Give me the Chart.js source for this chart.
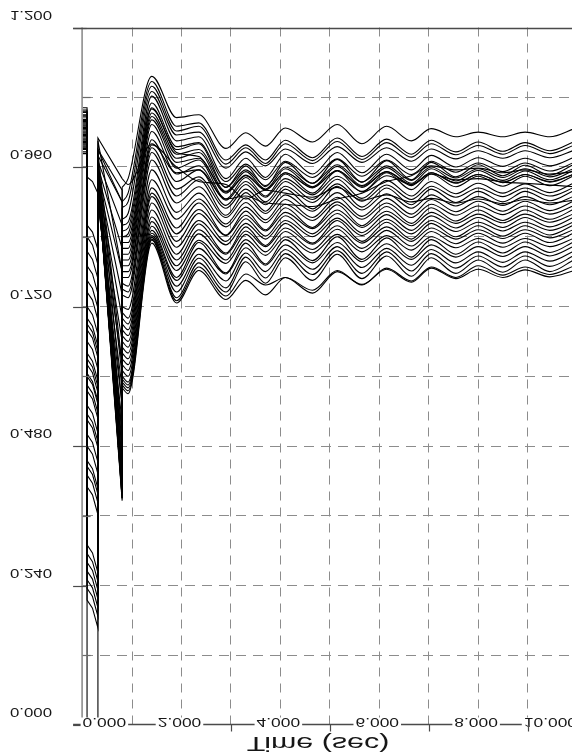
<!DOCTYPE html>
<html>
<head>
<meta charset="utf-8">
<title>Bus voltages</title>
<script src="https://cdn.jsdelivr.net/npm/chart.js@4.4.1/dist/chart.umd.min.js"></script>
<style>
  html, body { margin: 0; padding: 0; background: #fff; overflow: hidden; }
  #wrap { width: 600px; height: 753px; }
</style>
</head>
<body>
<div id="wrap"><canvas id="c" width="600" height="753"></canvas></div>
<script>
// Sample times (s): pre-fault, fault on/off, resynchronisation, then the swing extrema
const times = [0, 0.09, 0.09, 0.2, 0.31, 0.31, 0.8, 0.8, 0.92,
  1.4, 1.9, 2.35, 2.9, 3.3, 3.7, 4.1, 4.65, 5.15, 5.65, 6.15, 6.65, 7.05, 7.55, 8.0, 8.5, 8.95, 9.45, 9.95];

// Bus voltages (pu), one array per monitored bus, aligned with `times`
const bus01 = [1.030,1.030,0.840,0.826,0.792,0.990,0.900,0.925,0.940, 1.116,1.045,1.050,0.992,1.019,0.996,1.027,1.003,1.033,1.000,1.030,1.005,1.026,1.012,1.020,1.012,1.020,1.012,1.026];
const bus02 = [1.062,1.062,0.815,0.801,0.768,1.005,0.780,0.900,0.915, 1.107,1.030,1.036,0.972,0.998,0.972,1.006,0.976,1.010,0.978,1.008,0.982,1.006,0.986,1.003,0.987,1.002,0.988,1.004];
const bus03 = [1.046,1.046,0.790,0.776,0.742,0.985,0.620,0.890,0.900, 1.099,1.022,1.030,0.965,0.993,0.966,1.000,0.971,1.004,0.973,1.002,0.977,1.000,0.981,0.997,0.982,0.997,0.983,0.998];
const bus04 = [1.054,1.054,0.765,0.751,0.717,0.975,0.550,0.870,0.880, 1.090,1.015,1.020,0.958,0.986,0.962,0.991,0.966,0.995,0.968,0.993,0.970,0.991,0.974,0.988,0.975,0.988,0.976,0.989];
const bus05 = [1.038,1.038,0.745,0.731,0.697,0.965,0.480,0.860,0.865, 1.082,1.005,1.012,0.940,0.975,0.942,0.982,0.948,0.985,0.950,0.982,0.955,0.980,0.960,0.976,0.961,0.975,0.962,0.977];
const bus06 = [1.042,1.042,0.720,0.706,0.672,0.960,0.440,0.850,0.855, 1.070,0.995,1.002,0.935,0.965,0.938,0.970,0.942,0.974,0.944,0.972,0.947,0.970,0.951,0.967,0.952,0.967,0.953,0.968];
const bus07 = [1.026,1.026,0.700,0.686,0.652,0.955,0.420,0.840,0.840, 1.062,0.990,1.000,0.925,0.962,0.926,0.968,0.932,0.973,0.934,0.971,0.938,0.968,0.943,0.964,0.945,0.963,0.946,0.965];
const bus08 = [1.034,1.034,0.680,0.666,0.632,0.950,0.400,0.830,0.830, 1.053,0.982,0.990,0.925,0.955,0.928,0.960,0.932,0.964,0.934,0.962,0.937,0.960,0.941,0.957,0.942,0.957,0.943,0.958];
const bus09 = [1.018,1.018,0.660,0.646,0.612,0.945,0.390,0.820,0.820, 1.047,0.975,0.985,0.918,0.952,0.922,0.957,0.926,0.961,0.928,0.959,0.932,0.957,0.936,0.954,0.937,0.953,0.938,0.955];
const bus10 = [1.022,1.022,0.640,0.626,0.592,0.940,0.390,0.810,0.810, 1.041,0.968,0.975,0.917,0.946,0.921,0.950,0.925,0.954,0.927,0.952,0.930,0.950,0.933,0.947,0.934,0.947,0.935,0.948];
const bus11 = [1.010,1.010,0.620,0.606,0.572,0.935,0.400,0.800,0.800, 1.033,0.958,0.972,0.905,0.942,0.910,0.948,0.915,0.953,0.917,0.950,0.921,0.948,0.926,0.944,0.927,0.944,0.928,0.946];
const bus12 = [1.014,1.014,0.600,0.586,0.552,0.930,0.410,0.790,0.790, 1.021,0.948,0.962,0.903,0.935,0.908,0.940,0.912,0.944,0.918,0.945,0.930,0.948,0.938,0.940,0.934,0.932,0.929,0.926];
const bus13 = [1.006,1.006,0.575,0.561,0.527,0.925,0.430,0.770,0.770, 1.007,0.935,0.955,0.894,0.930,0.900,0.935,0.904,0.939,0.906,0.937,0.910,0.935,0.914,0.932,0.915,0.931,0.916,0.933];
const bus14 = [1.002,1.002,0.550,0.536,0.502,0.920,0.450,0.760,0.755, 0.993,0.922,0.943,0.889,0.922,0.895,0.927,0.899,0.931,0.901,0.929,0.904,0.927,0.908,0.924,0.909,0.924,0.910,0.925];
const bus15 = [0.998,0.998,0.525,0.511,0.477,0.915,0.470,0.750,0.745, 0.985,0.910,0.938,0.877,0.916,0.884,0.922,0.888,0.927,0.891,0.924,0.895,0.922,0.899,0.918,0.900,0.918,0.902,0.920];
const bus16 = [0.994,0.994,0.500,0.486,0.452,0.912,0.500,0.740,0.735, 0.972,0.898,0.926,0.873,0.907,0.880,0.912,0.884,0.916,0.886,0.914,0.889,0.912,0.893,0.909,0.894,0.909,0.895,0.910];
const bus17 = [0.990,0.990,0.480,0.466,0.432,0.905,0.520,0.720,0.715, 0.955,0.882,0.915,0.862,0.899,0.869,0.904,0.873,0.908,0.875,0.906,0.879,0.904,0.883,0.901,0.884,0.901,0.885,0.902];
const bus18 = [0.986,0.986,0.455,0.441,0.407,0.900,0.550,0.710,0.700, 0.938,0.870,0.905,0.857,0.891,0.864,0.896,0.868,0.900,0.870,0.898,0.873,0.896,0.877,0.893,0.878,0.893,0.879,0.894];
const bus19 = [0.983,0.983,0.430,0.416,0.382,0.905,0.580,0.700,0.690, 0.924,0.855,0.898,0.843,0.884,0.852,0.890,0.856,0.895,0.859,0.892,0.863,0.890,0.867,0.886,0.868,0.886,0.870,0.888];
const bus20 = [1.050,1.050,0.410,0.396,0.362,0.910,0.620,0.690,0.680, 0.915,0.845,0.887,0.842,0.877,0.850,0.882,0.854,0.886,0.856,0.884,0.859,0.882,0.863,0.879,0.864,0.879,0.865,0.880];
const bus21 = [1.058,1.058,0.310,0.296,0.262,0.920,0.660,0.680,0.670, 0.909,0.832,0.880,0.832,0.871,0.841,0.876,0.845,0.880,0.847,0.878,0.851,0.876,0.855,0.873,0.856,0.873,0.857,0.874];
const bus22 = [1.048,1.048,0.295,0.281,0.247,0.930,0.700,0.670,0.660, 0.898,0.822,0.868,0.826,0.863,0.836,0.868,0.840,0.872,0.842,0.870,0.845,0.868,0.849,0.865,0.850,0.865,0.851,0.866];
const bus23 = [1.040,1.040,0.280,0.266,0.232,0.940,0.740,0.660,0.650, 0.886,0.810,0.862,0.812,0.857,0.825,0.863,0.829,0.868,0.832,0.865,0.836,0.863,0.840,0.859,0.841,0.859,0.843,0.861];
const bus24 = [1.032,1.032,0.265,0.251,0.217,0.950,0.780,0.650,0.640, 0.874,0.800,0.852,0.810,0.850,0.823,0.855,0.827,0.859,0.829,0.857,0.832,0.855,0.836,0.852,0.837,0.852,0.838,0.853];
const bus25 = [1.024,1.024,0.250,0.236,0.202,0.960,0.820,0.640,0.630, 0.866,0.790,0.845,0.800,0.844,0.814,0.849,0.818,0.853,0.820,0.851,0.824,0.849,0.828,0.846,0.829,0.846,0.830,0.847];
const bus26 = [1.016,1.016,0.235,0.221,0.187,0.970,0.860,0.630,0.620, 0.858,0.782,0.834,0.794,0.835,0.808,0.840,0.812,0.844,0.814,0.842,0.817,0.840,0.821,0.837,0.822,0.837,0.823,0.838];
const bus27 = [1.008,1.008,0.215,0.201,0.167,0.980,0.900,0.620,0.610, 0.851,0.770,0.830,0.778,0.829,0.793,0.835,0.799,0.840,0.801,0.838,0.805,0.835,0.810,0.831,0.812,0.831,0.813,0.832];
const bus28 = [0.996,0.996,0.860,0.848,0.818,0.990,0.920,0.610,0.600, 0.846,0.765,0.820,0.776,0.821,0.791,0.826,0.795,0.830,0.797,0.828,0.801,0.826,0.805,0.823,0.806,0.823,0.807,0.824];
const bus29 = [1.056,1.056,0.690,0.676,0.642,0.970,0.600,0.600,0.590, 0.842,0.755,0.810,0.764,0.812,0.780,0.818,0.784,0.823,0.787,0.820,0.791,0.818,0.795,0.814,0.796,0.814,0.798,0.816];
const bus30 = [1.036,1.036,0.630,0.616,0.582,0.960,0.500,0.595,0.585, 0.839,0.745,0.803,0.752,0.805,0.769,0.811,0.775,0.816,0.777,0.814,0.781,0.811,0.786,0.807,0.788,0.807,0.789,0.808];
const bus31 = [1.028,1.028,0.585,0.571,0.537,0.950,0.450,0.590,0.580, 0.836,0.735,0.795,0.745,0.797,0.760,0.804,0.765,0.810,0.768,0.807,0.772,0.804,0.777,0.800,0.779,0.800,0.780,0.801];
const bus32 = [1.020,1.020,0.535,0.521,0.487,0.940,0.400,0.585,0.575, 0.834,0.730,0.788,0.738,0.776,0.757,0.770,0.748,0.782,0.757,0.786,0.764,0.788,0.770,0.790,0.774,0.788,0.775,0.790];
const bus33 = [1.012,1.012,0.445,0.431,0.397,0.935,0.386,0.580,0.570, 0.829,0.726,0.782,0.732,0.765,0.740,0.770,0.743,0.780,0.758,0.784,0.762,0.786,0.768,0.784,0.770,0.783,0.771,0.782];
const bus34 = [1.000,1.000,0.012,0.010,0.010,0.970,0.390,0.840,0.845, 1.060,0.985,0.978,0.915,0.945,0.920,0.950,0.924,0.954,0.925,0.952,0.928,0.950,0.932,0.947,0.933,0.947,0.934,0.948];
const bus35 = [0.992,0.992,0.943,0.935,0.915,1.010,0.940,0.940,0.930, 1.000,0.950,0.955,0.905,0.910,0.898,0.896,0.892,0.905,0.915,0.935,0.945,0.962,0.955,0.958,0.950,0.955,0.948,0.952];
const bus36 = [1.004,1.004,0.605,0.591,0.557,0.942,0.470,0.780,0.780, 0.998,0.960,0.935,0.930,0.905,0.920,0.915,0.908,0.925,0.903,0.912,0.900,0.906,0.898,0.905,0.897,0.904,0.898,0.903];

const busCurves = [bus01, bus02, bus03, bus04, bus05, bus06, bus07, bus08, bus09, bus10,
  bus11, bus12, bus13, bus14, bus15, bus16, bus17, bus18, bus19, bus20,
  bus21, bus22, bus23, bus24, bus25, bus26, bus27, bus28, bus29, bus30,
  bus31, bus32, bus33, bus34, bus35, bus36];

// Axis annotations
const yTickValues = [0, 0.24, 0.48, 0.72, 0.96, 1.2];
const yTickLabels = ['0.000', '0.240', '0.480', '0.720', '0.960', '1.200'];
const yMinorValues = [0.12, 0.36, 0.6, 0.84, 1.08];
const xTickValues = [0, 2, 4, 6, 8, 10];
const xTickLabels = ['0.000', '2.000', '4.000', '6.000', '8.000', '10.000'];
const xMinorValues = [3, 5, 7, 9];
const xTitle = 'Time (sec)';

// Index where the smooth (post-resynchronisation) part of each trace starts
const SPLIT = 7;

const datasets = [];
busCurves.forEach(v => {
  const pts = times.map((t, i) => ({ x: t, y: v[i] }));
  datasets.push({ data: pts.slice(0, SPLIT + 1), tension: 0 });
  datasets.push({ data: pts.slice(SPLIT), cubicInterpolationMode: 'monotone' });
});

const FONT = '"Liberation Sans", Arial, sans-serif';

// Text is plotted mirrored top-to-bottom and stretched horizontally
function mirroredText(ctx, str, x, y, align, size, sx) {
  ctx.save();
  ctx.translate(x, y);
  ctx.scale(sx, -1);
  ctx.font = size + 'px ' + FONT;
  ctx.textAlign = align;
  ctx.textBaseline = 'alphabetic';
  ctx.fillStyle = '#161616';
  ctx.fillText(str, 0, 0);
  ctx.restore();
}

function seg(ctx, x1, y1, x2, y2) {
  ctx.beginPath();
  ctx.moveTo(x1, y1);
  ctx.lineTo(x2, y2);
  ctx.stroke();
}

const isEdge = (v, lo, hi) => Math.abs(v - lo) < 1e-6 || Math.abs(v - hi) < 1e-6;

const axisFrame = {
  id: 'axisFrame',
  afterDatasetsDraw(chart) {
    const { ctx, chartArea: a, scales: { x, y } } = chart;
    const left = a.left, right = a.right, top = a.top, bottom = a.bottom;
    const outer = left - 9.5;
    ctx.save();

    // vertical axis line
    ctx.strokeStyle = '#8e8e8e';
    ctx.lineWidth = 1.6;
    seg(ctx, left - 0.5, top, left - 0.5, bottom);

    // top and bottom frame lines
    ctx.strokeStyle = '#4a4a4a';
    ctx.lineWidth = 1.3;
    seg(ctx, outer, Math.round(top) + 0.5, right, Math.round(top) + 0.5);
    seg(ctx, outer, Math.round(bottom) - 0.5, right, Math.round(bottom) - 0.5);

    // major y ticks (outside) and minor y ticks (inside)
    ctx.lineWidth = 1.2;
    yTickValues.forEach(v => {
      const py = Math.round(y.getPixelForValue(v)) + 0.5;
      seg(ctx, outer, py, left + 4, py);
    });
    ctx.strokeStyle = '#6a6a6a';
    yMinorValues.forEach(v => {
      const py = Math.round(y.getPixelForValue(v)) + 0.5;
      seg(ctx, left, py, left + 8, py);
    });

    // y labels
    yTickValues.forEach((v, i) => {
      const py = y.getPixelForValue(v);
      mirroredText(ctx, yTickLabels[i], 52, py - 17, 'right', 12, 1.4);
    });

    // x labels sit on the bottom line, on a white ground
    const axisY = Math.round(bottom) - 0.5;
    ctx.font = '12px ' + FONT;
    xTickValues.forEach((v, i) => {
      const px = x.getPixelForValue(v);
      const w = ctx.measureText(xTickLabels[i]).width * 1.45;
      let x0, align, ax;
      if (i === 0) { x0 = left; align = 'left'; ax = left; }
      else if (i === xTickValues.length - 1) { x0 = right - w; align = 'right'; ax = right; }
      else { x0 = px - 2 - w / 2; align = 'center'; ax = px - 2; }
      ctx.fillStyle = '#fff';
      ctx.fillRect(x0 - 2, axisY - 7, w + 4, 12);
      mirroredText(ctx, xTickLabels[i], ax, axisY - 6.5, align, 12, 1.45);
      ctx.font = '12px ' + FONT;
    });

    // short ticks under the axis at odd seconds
    ctx.strokeStyle = '#4a4a4a';
    ctx.lineWidth = 1.2;
    xMinorValues.forEach(v => {
      const px = Math.round(x.getPixelForValue(v)) + 0.5;
      seg(ctx, px, axisY, px, axisY + 7);
    });

    // axis title
    mirroredText(ctx, xTitle, 318, 737, 'center', 21, 1.45);
    ctx.restore();
  }
};

new Chart(document.getElementById('c'), {
  type: 'line',
  data: { datasets },
  options: {
    responsive: false,
    animation: false,
    events: [],
    layout: { padding: { left: 82.6, right: 23, top: 27.5, bottom: 28 } },
    elements: {
      point: { radius: 0 },
      line: { borderColor: '#000', borderWidth: 1.1, fill: false }
    },
    plugins: { legend: { display: false }, tooltip: { enabled: false }, title: { display: false } },
    scales: {
      x: {
        type: 'linear', min: 0, max: 10,
        ticks: { display: false, stepSize: 1 },
        grid: {
          drawTicks: false, lineWidth: 1,
          color: c => (c.tick && isEdge(c.tick.value, 0, 10)) ? 'rgba(0,0,0,0)' : '#8c8c8c'
        },
        border: { display: false, dash: [9, 7] }
      },
      y: {
        type: 'linear', min: 0, max: 1.2,
        ticks: { display: false, stepSize: 0.12 },
        grid: {
          drawTicks: false, lineWidth: 1,
          color: c => (c.tick && isEdge(c.tick.value, 0, 1.2)) ? 'rgba(0,0,0,0)' : '#8c8c8c'
        },
        border: { display: false, dash: [10, 7] }
      }
    }
  },
  plugins: [axisFrame]
});
</script>
</body>
</html>
